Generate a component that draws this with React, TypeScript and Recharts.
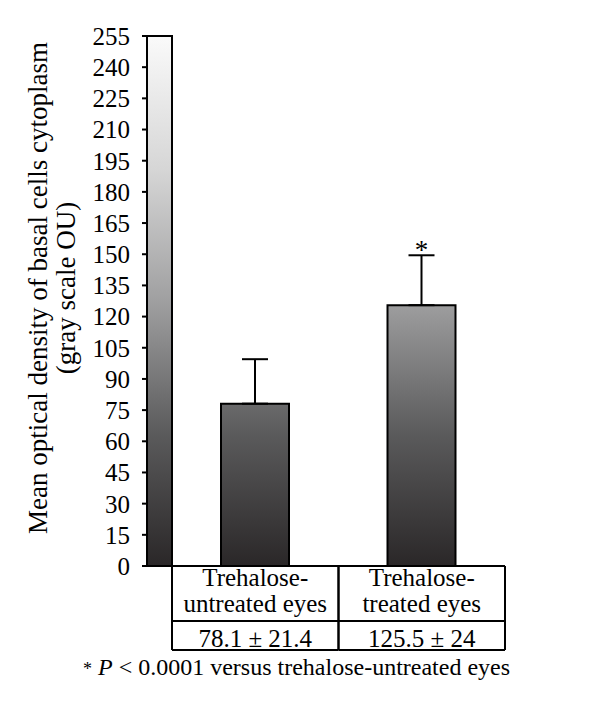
import React from 'react';
import { BarChart, ComposedChart, Bar, XAxis, YAxis, ErrorBar, LabelList, Cell } from 'recharts';

// ---------- data ----------
const CATEGORIES = ['Trehalose-untreated eyes', 'Trehalose-treated eyes'];
const CAT_LINE1 = ['Trehalose-', 'Trehalose-'];
const CAT_LINE2 = ['untreated eyes', 'treated eyes'];
const MEANS = [78.1, 125.5];
const SDS = [21.4, 24];
const VALUE_LABELS = ['78.1 \u00b1 21.4', '125.5 \u00b1 24'];
const SIGNIF = ['', '*'];
const SCALE_MAX = 255;
const Y_TICKS = [0, 15, 30, 45, 60, 75, 90, 105, 120, 135, 150, 165, 180, 195, 210, 225, 240, 255];
const Y_LABEL_LINE1 = 'Mean optical density of basal cells cytoplasm';
const Y_LABEL_LINE2 = '(gray scale OU)';
const FOOTNOTE = ' < 0.0001 versus trehalose-untreated eyes';

// ---------- styles ----------
const W = 600;
const H = 708;
const FONT = '"Liberation Serif", "Times New Roman", serif';
const FS_TICK = 25;
const FS_LABEL = 27;
const FS_TABLE = 25;
const FS_NOTE = 24;
const LW = 2;
const GRAY_LEVELS = [0, 64, 128, 191, 255];
const GRAY_COLORS = ['#2a2728', '#5b5b5c', '#a0a0a1', '#d6d6d6', '#fafafa'];

const MARGIN_B = { top: 36, right: 95, bottom: 58, left: 172 };
const TABLE_H = 84;
const TABLE_MID = 55;

function hexToRgb(h: string) {
  const n = parseInt(h.slice(1), 16);
  return [(n >> 16) & 255, (n >> 8) & 255, n & 255];
}
function grayAt(v: number) {
  for (let i = 0; i < GRAY_LEVELS.length - 1; i++) {
    const a = GRAY_LEVELS[i], b = GRAY_LEVELS[i + 1];
    if (v >= a && v <= b) {
      const t = (v - a) / (b - a);
      const ca = hexToRgb(GRAY_COLORS[i]), cb = hexToRgb(GRAY_COLORS[i + 1]);
      const c = ca.map((x, k) => Math.round(x + (cb[k] - x) * t));
      return `rgb(${c[0]},${c[1]},${c[2]})`;
    }
  }
  return GRAY_COLORS[GRAY_COLORS.length - 1];
}
function gradStops(v: number) {
  const stops = [{ offset: 0, color: grayAt(v) }];
  for (let i = GRAY_LEVELS.length - 1; i >= 0; i--) {
    const s = GRAY_LEVELS[i];
    if (s < v) stops.push({ offset: 1 - s / v, color: GRAY_COLORS[i] });
  }
  return stops;
}
function Grad({ id, v }: { id: string; v: number }) {
  return (
    <linearGradient id={id} x1="0" y1="0" x2="0" y2="1">
      {gradStops(v).map((s, k) => (
        <stop key={k} offset={s.offset} stopColor={s.color} />
      ))}
    </linearGradient>
  );
}

const scaleData = [{ name: 'scale', value: SCALE_MAX }];
const rows = CATEGORIES.map((c, i) => ({
  category: c,
  mean: MEANS[i],
  err: [0, SDS[i]],
  sig: SIGNIF[i],
}));

function YLabel(props: any) {
  const vb = props.viewBox || { x: 0, y: 36, width: 147, height: 530 };
  const cy = vb.y + vb.height / 2 - 13;
  const x1 = vb.x + 47;
  const x2 = vb.x + 75;
  return (
    <g>
      <text x={x1} y={cy} transform={`rotate(-90, ${x1}, ${cy})`} textAnchor="middle" fontFamily={FONT} fontSize={FS_LABEL} fill="#000">
        {Y_LABEL_LINE1}
      </text>
      <text x={x2} y={cy} transform={`rotate(-90, ${x2}, ${cy})`} textAnchor="middle" fontFamily={FONT} fontSize={FS_LABEL} fill="#000">
        {Y_LABEL_LINE2}
      </text>
    </g>
  );
}

function TableCell(props: any) {
  const { x, y, payload } = props;
  const i = CATEGORIES.indexOf(payload.value);
  const cw = (W - MARGIN_B.left - MARGIN_B.right) / CATEGORIES.length;
  const l = x - cw / 2;
  const r = x + cw / 2;
  const st = { stroke: '#000', strokeWidth: LW };
  return (
    <g>
      <line x1={l} y1={y} x2={l} y2={y + TABLE_H} {...st} />
      <line x1={r} y1={y} x2={r} y2={y + TABLE_H} {...st} />
      <line x1={l} y1={y + TABLE_MID} x2={r} y2={y + TABLE_MID} {...st} />
      <line x1={l} y1={y + TABLE_H} x2={r} y2={y + TABLE_H} {...st} />
      <text x={x} y={y + 20} textAnchor="middle" fontFamily={FONT} fontSize={FS_TABLE} fill="#000">{CAT_LINE1[i]}</text>
      <text x={x} y={y + 46} textAnchor="middle" fontFamily={FONT} fontSize={FS_TABLE} fill="#000">{CAT_LINE2[i]}</text>
      <text x={x} y={y + 81} textAnchor="middle" fontFamily={FONT} fontSize={FS_TABLE} fill="#000">{VALUE_LABELS[i]}</text>
    </g>
  );
}

function SigLabel(props: any) {
  const { x, y, width, height, value, index } = props;
  if (!value) return null;
  const mean = MEANS[index];
  const pxPerUnit = height / mean;
  const top = y - SDS[index] * pxPerUnit;
  return (
    <text x={x + width / 2} y={top + 4} textAnchor="middle" fontFamily={FONT} fontSize={FS_LABEL} fill="#000">
      {value}
    </text>
  );
}

export default function App() {
  return (
    <div style={{ position: 'absolute', left: 0, top: 0, width: W, height: H, background: '#fff' }}>
      <div style={{ position: 'absolute', left: 0, top: 0 }}>
        <BarChart width={W} height={H} data={scaleData} margin={{ top: 36, right: 428, bottom: 142, left: 0 }} barCategoryGap={0}>
          <defs>
            <Grad id="g-scale" v={SCALE_MAX} />
          </defs>
          <XAxis dataKey="name" hide />
          <YAxis
            domain={[0, SCALE_MAX]}
            ticks={Y_TICKS}
            interval={0}
            width={147}
            tickSize={5}
            tickMargin={12}
            axisLine={{ stroke: '#000', strokeWidth: LW }}
            tickLine={{ stroke: '#000', strokeWidth: LW }}
            tick={{ fill: '#000', fontSize: FS_TICK, fontFamily: FONT }}
            label={{ content: YLabel }}
          />
          <Bar dataKey="value" fill="url(#g-scale)" stroke="#000" strokeWidth={LW} isAnimationActive={false} />
        </BarChart>
      </div>
      <div style={{ position: 'absolute', left: 0, top: 0 }}>
        <ComposedChart width={W} height={H} data={rows} margin={MARGIN_B}>
          <defs>
            {rows.map((r, i) => (
              <Grad key={i} id={`g-bar-${i}`} v={r.mean} />
            ))}
          </defs>
          <XAxis
            dataKey="category"
            height={TABLE_H}
            interval={0}
            tickSize={0}
            tickMargin={0}
            tickLine={false}
            axisLine={{ stroke: '#000', strokeWidth: LW }}
            tick={<TableCell />}
          />
          <YAxis hide domain={[0, SCALE_MAX]} />
          <Bar dataKey="mean" barSize={68} stroke="#000" strokeWidth={LW} isAnimationActive={false}>
            {rows.map((r, i) => (
              <Cell key={i} fill={`url(#g-bar-${i})`} />
            ))}
            <ErrorBar dataKey="err" width={13} stroke="#000" strokeWidth={LW} direction="y" />
            <LabelList dataKey="sig" content={<SigLabel />} />
          </Bar>
        </ComposedChart>
      </div>
      <svg width={W} height={H} style={{ position: 'absolute', left: 0, top: 0, pointerEvents: 'none' }}>
        <text x={83} y={675} fontFamily={FONT} fontSize={FS_NOTE} fill="#000">
          <tspan fontSize={18}>*</tspan>
          <tspan fontStyle="italic"> P</tspan>
          <tspan>{FOOTNOTE}</tspan>
        </text>
      </svg>
    </div>
  );
}
